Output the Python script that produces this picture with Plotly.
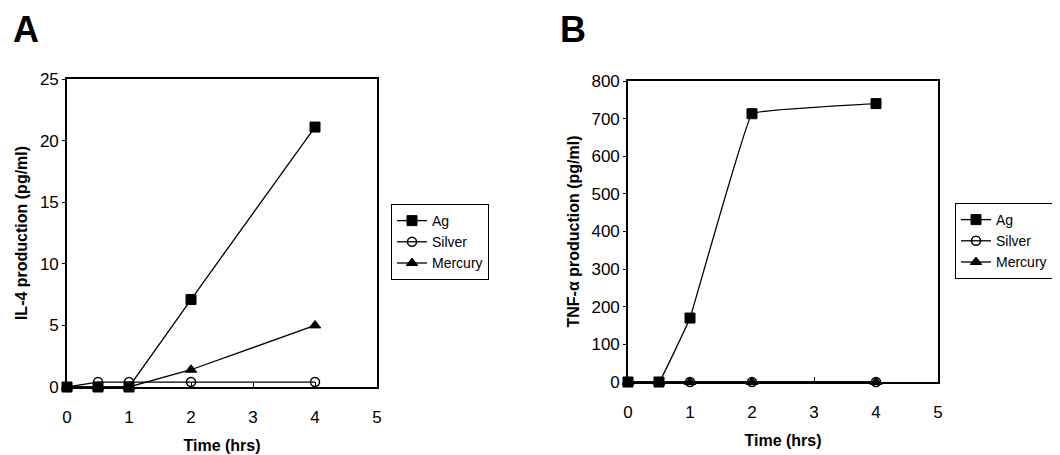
import plotly.graph_objects as go

time_hrs = [0, 0.5, 1, 2, 4]
il4_ag = [0, 0, 0, 7.1, 21.1]
il4_silver = [0, 0.4, 0.4, 0.4, 0.4]
il4_mercury = [0, 0, 0, 1.4, 5.0]
tnf_ag = [0, 0, 170, 713, 740]
tnf_silver = [0, 0, 0, 0, 0]
tnf_mercury = [0, 0, 0, 0, 0]
series_names = ["Ag", "Silver", "Mercury"]
x_ticks = [0, 1, 2, 3, 4, 5]
il4_ticks = [0, 5, 10, 15, 20, 25]
tnf_ticks = [0, 100, 200, 300, 400, 500, 600, 700, 800]

FONT = "Liberation Sans"
styles = [
    dict(symbol="square", size=10, color="black", line=dict(color="black", width=1)),
    dict(symbol="circle-open", size=9, color="black", line=dict(color="black", width=1.5)),
    dict(symbol="triangle-up", size=10, color="black", line=dict(color="black", width=1)),
]

fig = go.Figure()

panelA = [il4_ag, il4_silver, il4_mercury]
panelB = [tnf_ag, tnf_silver, tnf_mercury]

for name, ys, st in zip(series_names, panelA, styles):
    fig.add_trace(go.Scatter(
        x=time_hrs, y=ys, name=name, mode="lines+markers",
        line=dict(color="black", width=1.3), marker=st,
        xaxis="x", yaxis="y", legend="legend", cliponaxis=False,
    ))

for name, ys, st in zip(series_names, panelB, styles):
    shape = "spline" if name == "Ag" else "linear"
    fig.add_trace(go.Scatter(
        x=time_hrs, y=ys, name=name, mode="lines+markers",
        line=dict(color="black", width=1.3, shape=shape, smoothing=0.15), marker=st,
        xaxis="x2", yaxis="y2", legend="legend2", cliponaxis=False,
    ))

# the page body has an 8px default margin; size the figure so it fits the window
OFF = 8
W, H = 1060 - OFF, 455 - OFF
def px_x(p): return (p - OFF) / W
def px_y(p): return 1 - (p - OFF) / H

axis_common = dict(
    showline=True, linecolor="black", linewidth=1.6, mirror=True,
    showgrid=False, zeroline=False, automargin=False,
    tickfont=dict(family=FONT, size=17, color="black"),
    tickcolor="black",
)
title_font = dict(size=16, family=FONT, color="black")

fig.update_layout(
    width=W, height=H,
    margin=dict(l=0, r=0, t=0, b=0, autoexpand=False),
    paper_bgcolor="white", plot_bgcolor="white",
    font=dict(family=FONT, color="black"),
    xaxis=dict(domain=[px_x(67), px_x(377)], range=[0, 5], tickvals=x_ticks,
               ticks="inside", ticklen=5, ticklabelstandoff=14, anchor="y",
               title=dict(text="<b>Time (hrs)</b>", font=title_font, standoff=14),
               **axis_common),
    yaxis=dict(domain=[px_y(387), px_y(79)], range=[0, 25], tickvals=il4_ticks,
               ticks="outside", ticklen=3, anchor="x",
               title=dict(text="<b>IL-4 production (pg/ml)</b>", font=title_font, standoff=8),
               **axis_common),
    xaxis2=dict(domain=[px_x(628), px_x(938)], range=[0, 5], tickvals=x_ticks,
                ticks="inside", ticklen=5, ticklabelstandoff=14, anchor="y2",
                title=dict(text="<b>Time (hrs)</b>", font=title_font, standoff=14),
                **axis_common),
    yaxis2=dict(domain=[px_y(382), px_y(81)], range=[0, 800], tickvals=tnf_ticks,
                ticks="outside", ticklen=3, anchor="x2",
                title=dict(text="<b>TNF-α production (pg/ml)</b>", font=title_font, standoff=8),
                **axis_common),
    legend=dict(x=px_x(391), y=px_y(204), xanchor="left", yanchor="top",
                bordercolor="black", borderwidth=1, bgcolor="white",
                font=dict(family=FONT, size=14, color="black"),
                itemwidth=30, tracegroupgap=0),
    legend2=dict(x=px_x(955), y=px_y(203), xanchor="left", yanchor="top",
                 bordercolor="black", borderwidth=1, bgcolor="white",
                 font=dict(family=FONT, size=14, color="black"),
                 itemwidth=30, tracegroupgap=0),
    annotations=[
        dict(text="<b>A</b>", x=px_x(11), y=px_y(7), xref="paper", yref="paper",
             xanchor="left", yanchor="top", showarrow=False,
             font=dict(family=FONT, size=36, color="black")),
        dict(text="<b>B</b>", x=px_x(558), y=px_y(7), xref="paper", yref="paper",
             xanchor="left", yanchor="top", showarrow=False,
             font=dict(family=FONT, size=36, color="black")),
    ],
)

fig.write_html("out.html")
